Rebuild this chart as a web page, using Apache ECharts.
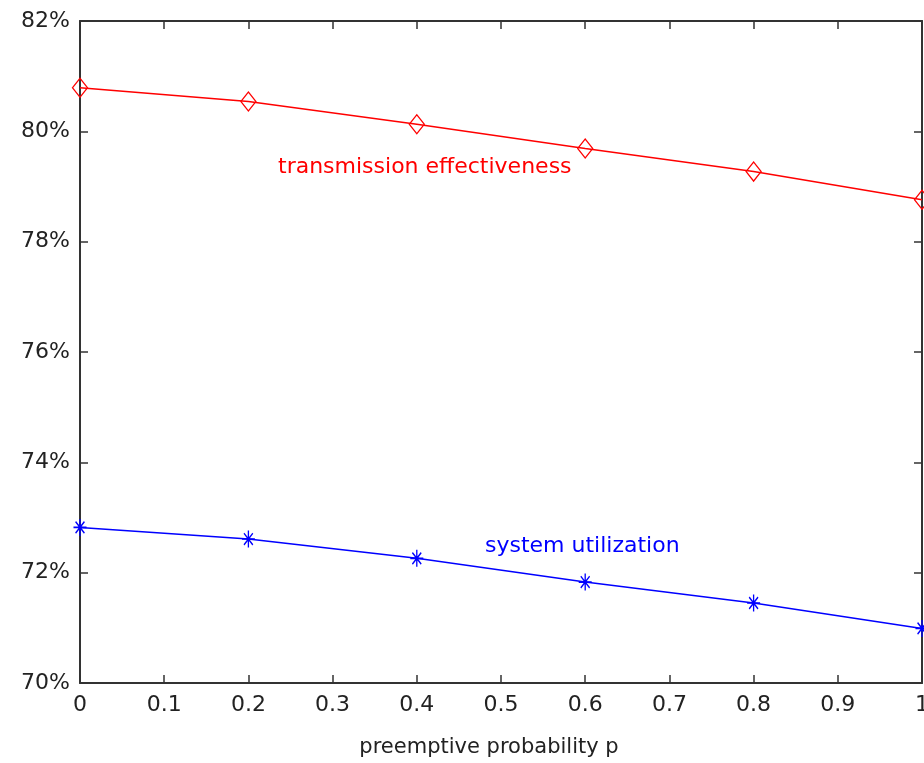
<!DOCTYPE html>
<html>
<head>
<meta charset="utf-8">
<script src="https://cdn.jsdelivr.net/npm/echarts@6/dist/echarts.min.js"></script>
<style>html,body{margin:0;padding:0;background:#fff}#c{width:924px;height:763px}</style>
</head>
<body>
<div id="c"></div>
<script>
const pValues = [0, 0.2, 0.4, 0.6, 0.8, 1.0];
const transmissionEffectiveness = [80.79, 80.54, 80.13, 79.69, 79.27, 78.76];
const systemUtilization = [72.82, 72.61, 72.26, 71.83, 71.45, 70.99];
const xTicks = [0, 0.1, 0.2, 0.3, 0.4, 0.5, 0.6, 0.7, 0.8, 0.9, 1];
const yTicks = [70, 72, 74, 76, 78, 80, 82];
const seriesNames = ['transmission effectiveness', 'system utilization'];
const xAxisName = 'preemptive probability p';

const FONT = 'DejaVu Sans';
const axisColor = '#333';
const chart = echarts.init(document.getElementById('c'));
const pair = (xs, ys) => xs.map((x, i) => [x, ys[i]]);
const asterisk = 'path://M5,0L5,10M0,5L10,5M1.6,1.6L8.4,8.4M1.6,8.4L8.4,1.6';

const baseX = {
  type: 'value', min: xTicks[0], max: xTicks[xTicks.length - 1], interval: 0.1,
  axisLine: { show: true, onZero: false, lineStyle: { color: axisColor, width: 2 } },
  axisTick: { show: true, inside: true, length: 8, lineStyle: { color: axisColor, width: 1.5 } },
  splitLine: { show: false }
};
const baseY = {
  type: 'value', min: yTicks[0], max: yTicks[yTicks.length - 1], interval: 2,
  axisLine: { show: true, onZero: false, lineStyle: { color: axisColor, width: 2 } },
  axisTick: { show: true, inside: true, length: 8, lineStyle: { color: axisColor, width: 1.5 } },
  splitLine: { show: false }
};

chart.setOption({
  animation: false,
  backgroundColor: '#fff',
  grid: { left: 80, right: 2, top: 21, bottom: 80, containLabel: false, outerBoundsMode: 'none' },
  xAxis: [
    Object.assign({}, baseX, {
      position: 'bottom',
      name: xAxisName, nameLocation: 'middle', nameGap: 54,
      nameTextStyle: { fontFamily: FONT, fontSize: 21, color: '#222', padding: [0, 24, 0, 0] },
      axisLabel: { show: true, margin: 11, fontFamily: FONT, fontSize: 22, color: '#222',
        formatter: v => (Math.round(v * 10) / 10).toString() }
    }),
    Object.assign({}, baseX, { position: 'top', axisLabel: { show: false } })
  ],
  yAxis: [
    Object.assign({}, baseY, {
      position: 'left',
      axisLabel: { show: true, margin: 10, fontFamily: FONT, fontSize: 22, color: '#222',
        formatter: '{value}%' }
    }),
    Object.assign({}, baseY, { position: 'right', axisLabel: { show: false } })
  ],
  series: [
    {
      name: seriesNames[0], type: 'line',
      data: pair(pValues, transmissionEffectiveness),
      symbol: 'diamond', symbolSize: [15, 19],
      lineStyle: { color: '#ff0000', width: 1.5 },
      itemStyle: { color: 'rgba(0,0,0,0)', borderColor: '#ff0000', borderWidth: 1.3 },
      clip: false
    },
    {
      name: seriesNames[1], type: 'line',
      data: pair(pValues, systemUtilization),
      symbol: asterisk, symbolKeepAspect: false, symbolSize: [13, 17],
      lineStyle: { color: '#0000ff', width: 1.5 },
      itemStyle: { color: '#0000ff', borderColor: '#0000ff', borderWidth: 1.5 },
      clip: false
    }
  ],
  graphic: [
    { type: 'text', left: 278, top: 156,
      style: { text: seriesNames[0], fill: '#ff0000', font: '22px "' + FONT + '"' } },
    { type: 'text', left: 485, top: 535,
      style: { text: seriesNames[1], fill: '#0000ff', font: '22px "' + FONT + '"' } }
  ]
});
</script>
</body>
</html>
